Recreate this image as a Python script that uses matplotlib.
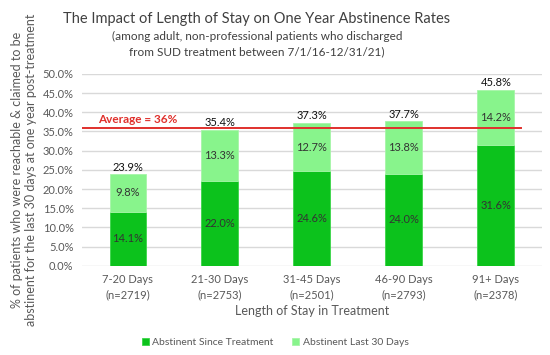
import matplotlib.pyplot as plt

# data
kategorier = ["7-20 Days\n(n=2719)", "21-30 Days\n(n=2753)", "31-45 Days\n(n=2501)",
              "46-90 Days\n(n=2793)", "91+ Days\n(n=2378)"]
siden_behandling = [14.1, 22.0, 24.6, 24.0, 31.6]
siste_30_dager = [9.8, 13.3, 12.7, 13.8, 14.2]
totalt = [23.9, 35.4, 37.3, 37.7, 45.8]
snitt = 36

mork = "#0cc21c"
lys = "#88f48c"

plt.rcParams['font.family'] = ['Lato', 'DejaVu Sans']

fig = plt.figure(figsize=(5.5, 3.55), dpi=100)
ax = fig.add_axes([0.149, 0.251, 0.836, 0.541])

x = range(len(kategorier))
b1 = ax.bar(x, siden_behandling, width=0.4, color=mork, edgecolor="#3ad648", linewidth=0.6,
            label="Abstinent Since Treatment", zorder=3)
b2 = ax.bar(x, siste_30_dager, width=0.4, bottom=siden_behandling, color=lys,
            edgecolor="#a6f5a8", linewidth=0.6, label="Abstinent Last 30 Days", zorder=3)

# tall i segmentene
for i in x:
    ax.text(i, siden_behandling[i] / 2, f"{siden_behandling[i]:.1f}%", ha="center", va="center",
            fontsize=8, color="#333333", zorder=4)
    ax.text(i, siden_behandling[i] + siste_30_dager[i] / 2, f"{siste_30_dager[i]:.1f}%",
            ha="center", va="center", fontsize=8, color="#333333", zorder=4)
    ax.text(i, totalt[i] + 0.4, f"{totalt[i]:.1f}%", ha="center", va="bottom",
            fontsize=8, color="#111111", zorder=4)

# gjennomsnittslinje
ax.plot([-0.5, 4.27], [snitt, snitt], color="#e0302c", linewidth=1.4, zorder=5)
ax.text(-0.33, snitt + 0.6, f"Average = {snitt}%", color="#e0302c", fontsize=8.5,
        fontweight="bold", ha="left", va="bottom", zorder=5)

ax.set_xlim(-0.5, 4.5)
ax.set_ylim(0, 50)
ax.set_yticks(range(0, 51, 5))
ax.set_yticklabels([f"{v:.1f}%" for v in range(0, 51, 5)])
ax.set_xticks(list(x))
ax.set_xticklabels(kategorier, linespacing=1.5)
ax.tick_params(axis="both", length=0, labelsize=8, colors="#595959", pad=6)
ax.tick_params(axis="x", pad=6)
ax.grid(axis="y", color="#d9d9d9", linewidth=1, zorder=0)
for s in ax.spines.values():
    s.set_visible(False)

ax.set_xlabel("Length of Stay in Treatment", fontsize=9, color="#595959", labelpad=3)
ax.set_ylabel("% of patients who were reachable & claimed to be\n"
              "abstinent for the last 30 days at one year post-treatment",
              fontsize=9, color="#595959", labelpad=4)

fig.text(0.467, 0.935, "The Impact of Length of Stay on One Year Abstinence Rates",
         ha="center", fontsize=10.5, color="#404040")
fig.text(0.467, 0.845, "(among adult, non-professional patients who discharged\n"
         "from SUD treatment between 7/1/16-12/31/21)", ha="center", fontsize=8.5,
         color="#404040", linespacing=1.5)

fig.legend(handles=[b1, b2], loc="center", bbox_to_anchor=(0.5, 0.035), ncol=2, frameon=False,
           fontsize=7.5, handlelength=0.7, handleheight=0.7, columnspacing=1.8,
           handletextpad=0.3, labelcolor="#595959")

fig.savefig("out.png", dpi=100)
